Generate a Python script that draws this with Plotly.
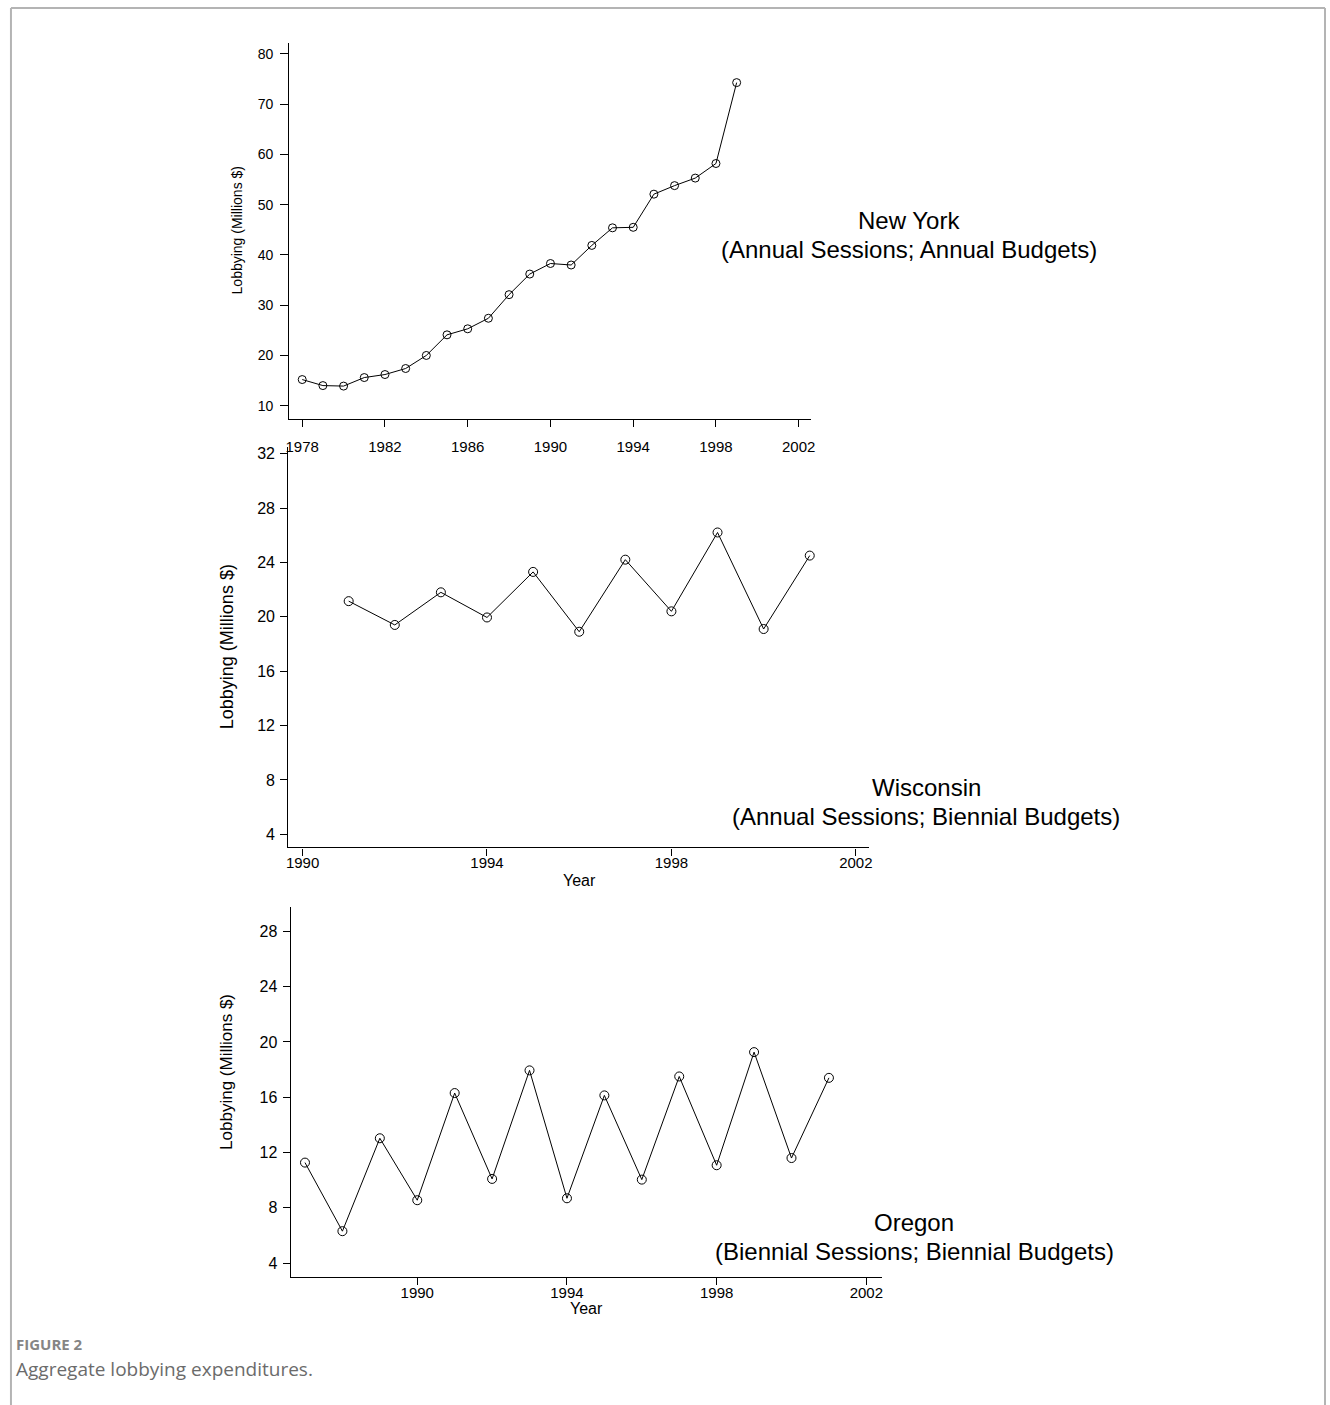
import plotly.graph_objects as go

# ---------------- data ----------------
ny_years = list(range(1978, 2000))
ny_values = [15.2, 14.0, 13.9, 15.6, 16.2, 17.4, 20.0, 24.1, 25.3, 27.4, 32.1,
             36.2, 38.3, 38.0, 41.9, 45.4, 45.5, 52.1, 53.8, 55.3, 58.2, 74.3]

wi_years = list(range(1991, 2002))
wi_values = [21.15, 19.4, 21.8, 19.95, 23.3, 18.9, 24.2, 20.4, 26.2, 19.1, 24.5]

or_years = list(range(1987, 2002))
or_values = [11.27, 6.31, 13.03, 8.55, 16.3, 10.09, 17.94, 8.69, 16.13, 10.04,
             17.5, 11.08, 19.26, 11.6, 17.4]

ny_xticks = [1978, 1982, 1986, 1990, 1994, 1998, 2002]
ny_yticks = [10, 20, 30, 40, 50, 60, 70, 80]
wi_xticks = [1990, 1994, 1998, 2002]
wi_yticks = [4, 8, 12, 16, 20, 24, 28, 32]
or_xticks = [1990, 1994, 1998, 2002]
or_yticks = [4, 8, 12, 16, 20, 24, 28]

ytitle = "Lobbying (Millions $)"
xtitle = "Year"
labels = [("New York", "(Annual Sessions; Annual Budgets)"),
          ("Wisconsin", "(Annual Sessions; Biennial Budgets)"),
          ("Oregon", "(Biennial Sessions; Biennial Budgets)")]
caption_head = "FIGURE 2"
caption_text = "Aggregate lobbying expenditures."

# ---------------- layout helpers ----------------
W, H = 1330, 1405
FONT = "Liberation Sans, Arial, sans-serif"


def px(x):
    return x / W


def py(y):
    return 1 - y / H


fig = go.Figure()

line_style = dict(color="black", width=1)


def marker_style(size):
    return dict(symbol="circle-open", size=size, color="black", line=dict(width=1, color="black"))


fig.add_trace(go.Scatter(x=ny_years, y=ny_values, mode="lines+markers",
                         line=line_style, marker=marker_style(8), xaxis="x", yaxis="y"))
fig.add_trace(go.Scatter(x=wi_years, y=wi_values, mode="lines+markers",
                         line=line_style, marker=marker_style(9), xaxis="x2", yaxis="y2"))
fig.add_trace(go.Scatter(x=or_years, y=or_values, mode="lines+markers",
                         line=line_style, marker=marker_style(9), xaxis="x3", yaxis="y3"))


def xax(domain, rng, ticks, anchor, standoff, size):
    return dict(domain=domain, range=rng, tickvals=ticks, anchor=anchor,
                showline=True, linecolor="black", linewidth=1.3, mirror=False,
                ticks="outside", ticklen=7, tickwidth=1, tickcolor="black",
                showgrid=False, zeroline=False, ticklabelstandoff=standoff,
                tickfont=dict(family=FONT, size=size, color="black"))


def yax(domain, rng, ticks, anchor, size, ticklen=7, standoff=2):
    return dict(domain=domain, range=rng, tickvals=ticks, anchor=anchor,
                showline=True, linecolor="black", linewidth=1.3, mirror=False,
                ticks="outside", ticklen=ticklen, tickwidth=1, tickcolor="black",
                showgrid=False, zeroline=False, ticklabelstandoff=standoff,
                tickfont=dict(family=FONT, size=size, color="black"))


fig.update_layout(
    width=W, height=H,
    margin=dict(l=0, r=0, t=0, b=0),
    paper_bgcolor="white", plot_bgcolor="white",
    showlegend=False,
    xaxis=xax([px(287), px(812)], [1977.375, 2002.6], ny_xticks, "y", 7, 15),
    yaxis=yax([py(418), py(42)], [7.41, 82.19], ny_yticks, "x", 14, ticklen=8, standoff=4),
    xaxis2=xax([px(286), px(870)], [1989.69, 2002.28], wi_xticks, "y2", -6, 15),
    yaxis2=yax([py(847), py(446)], [3.04, 32.51], wi_yticks, "x2", 16),
    xaxis3=xax([px(288.5), px(883)], [1986.62, 2002.41], or_xticks, "y3", -5, 15),
    yaxis3=yax([py(1277), py(907)], [2.99, 29.73], or_yticks, "x3", 16),
)

ann = []
# y axis titles
for (xc, yc, size) in [(234, 230, 14), (224, 646, 18), (224, 1072, 17)]:
    ann.append(dict(x=px(xc), y=py(yc), xref="paper", yref="paper", text=ytitle,
                    textangle=-90, showarrow=False, xanchor="center", yanchor="middle",
                    font=dict(family=FONT, size=size, color="black")))
# x axis titles
for (xc, yc) in [(579, 880), (586, 1308)]:
    ann.append(dict(x=px(xc), y=py(yc), xref="paper", yref="paper", text=xtitle,
                    showarrow=False, xanchor="center", yanchor="middle",
                    font=dict(family=FONT, size=16, color="black")))
# state labels
for (l1, l2), (xc, y1, y2) in zip(labels, [(910, 220, 249), (928, 787, 816), (916, 1222, 1251)]):
    ann.append(dict(x=px(xc), y=py(y1), xref="paper", yref="paper", text=l1,
                    showarrow=False, xanchor="center", yanchor="middle",
                    font=dict(family=FONT, size=24, color="black")))
    ann.append(dict(x=px(xc), y=py(y2), xref="paper", yref="paper", text=l2,
                    showarrow=False, xanchor="center", yanchor="middle",
                    font=dict(family=FONT, size=24, color="black")))
# caption
ann.append(dict(x=px(11), y=py(1344), xref="paper", yref="paper", text="<b>" + caption_head + "</b>",
                showarrow=False, xanchor="left", yanchor="middle", borderpad=0,
                font=dict(family="Open Sans, Noto Sans, sans-serif", size=15, color="#858585")))
ann.append(dict(x=px(11), y=py(1369), xref="paper", yref="paper", text=caption_text,
                showarrow=False, xanchor="left", yanchor="middle", borderpad=0,
                font=dict(family="Open Sans, Noto Sans, sans-serif", size=19, color="#6b6b6b")))
fig.update_layout(annotations=ann)

# page border (left, top, right)
border = dict(color="#b4b4b4", width=2)
fig.add_shape(type="line", xref="paper", yref="paper", x0=px(7), x1=px(7), y0=0, y1=py(7), line=border)
fig.add_shape(type="line", xref="paper", yref="paper", x0=px(7), x1=px(1329), y0=py(7), y1=py(7), line=border)
fig.add_shape(type="line", xref="paper", yref="paper", x0=px(1329), x1=px(1329), y0=0, y1=py(7), line=border)

fig.write_html("out.html", config={"displayModeBar": False},
               post_script="document.body.style.margin='0';")
